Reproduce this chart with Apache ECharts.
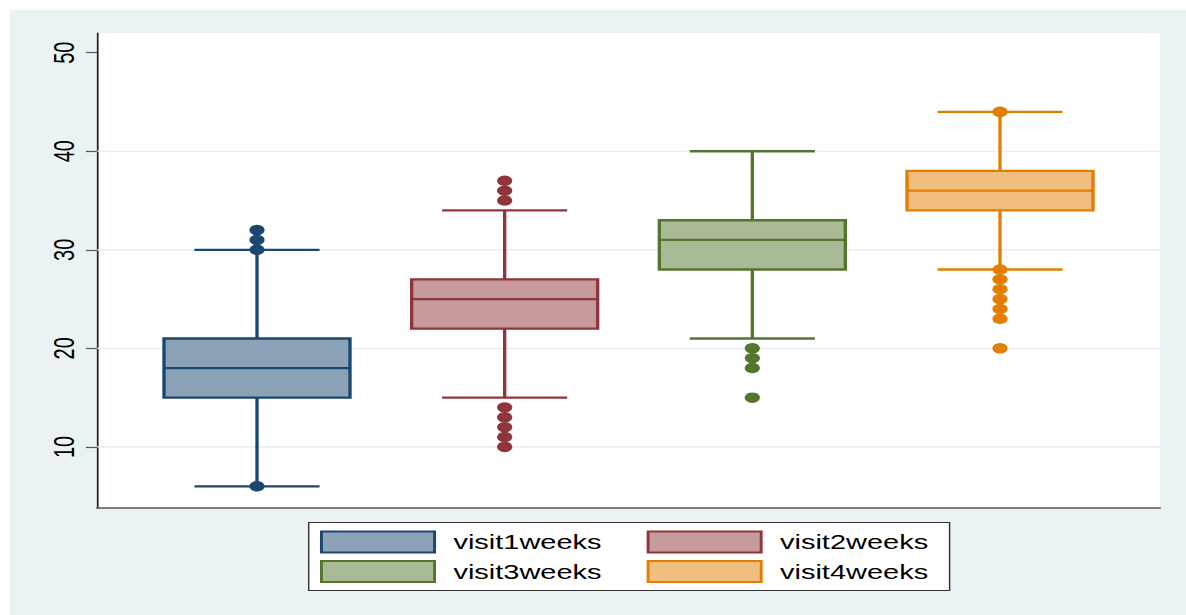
<!DOCTYPE html>
<html>
<head>
<meta charset="utf-8">
<script src="https://cdn.jsdelivr.net/npm/echarts@6/dist/echarts.min.js"></script>
<style>
  html, body { margin: 0; padding: 0; background: #ffffff; }
  #chart {
    position: absolute; left: 10px; top: 10px;
    width: 811px; height: 605px;
    transform: scaleX(1.45); transform-origin: 0 0;
  }
</style>
</head>
<body>
<div id="chart"></div>
<script>
// ---- data ----
const categories = ['visit1weeks', 'visit2weeks', 'visit3weeks', 'visit4weeks'];
const lowWhisker = [6, 15, 21, 28];
const q1 = [15, 22, 28, 34];
const median = [18, 25, 31, 36];
const q3 = [21, 27, 33, 38];
const highWhisker = [30, 34, 40, 44];
const outliers = [
  [6, 30, 31, 32],
  [10, 11, 12, 13, 14, 35, 36, 37],
  [15, 18, 19, 20],
  [20, 23, 24, 25, 26, 27, 28, 44]
];
const yTickValues = [10, 20, 30, 40, 50];
const gridValues = [10, 20, 30, 40];

// ---- styles ----
const strokeColors = ['#1a476f', '#90353b', '#55752f', '#e37e00'];
const fillColors = ['#8ca3b7', '#c79a9d', '#aaba97', '#f1be7f'];
const FONT = 'Liberation Sans, Arial, sans-serif';
const BOX_W = 0.751, CAP_W = 0.505, LW = 2.3;
const X_MIN = 0.354, X_MAX = 4.646;

const chart = echarts.init(document.getElementById('chart'), null, { renderer: 'svg' });

function boxRender(i) {
  return function (params, api) {
    const x = api.value(0);
    const pLow = api.coord([x, api.value(1)]);
    const pQ1 = api.coord([x, api.value(2)]);
    const pMed = api.coord([x, api.value(3)]);
    const pQ3 = api.coord([x, api.value(4)]);
    const pHigh = api.coord([x, api.value(5)]);
    const hb = api.size([BOX_W, 0])[0] / 2;
    const hc = api.size([CAP_W, 0])[0] / 2;
    const ls = { stroke: strokeColors[i], lineWidth: LW, fill: null };
    const cx = pMed[0];
    return {
      type: 'group',
      children: [
        { type: 'line', shape: { x1: cx, y1: pLow[1], x2: cx, y2: pQ1[1] }, style: ls },
        { type: 'line', shape: { x1: cx, y1: pQ3[1], x2: cx, y2: pHigh[1] }, style: ls },
        { type: 'line', shape: { x1: cx - hc, y1: pLow[1], x2: cx + hc, y2: pLow[1] }, style: ls },
        { type: 'line', shape: { x1: cx - hc, y1: pHigh[1], x2: cx + hc, y2: pHigh[1] }, style: ls },
        { type: 'rect', shape: { x: cx - hb, y: pQ3[1], width: hb * 2, height: pQ1[1] - pQ3[1] },
          style: { fill: fillColors[i], stroke: strokeColors[i], lineWidth: LW } },
        { type: 'line', shape: { x1: cx - hb, y1: pMed[1], x2: cx + hb, y2: pMed[1] }, style: ls }
      ]
    };
  };
}

const series = [];
series.push({
  type: 'custom', name: 'grid', silent: true, z: 1,
  data: gridValues.map(v => [1, v]),
  encode: { x: 0, y: 1 },
  renderItem: function (params, api) {
    const p = api.coord([1, api.value(1)]);
    const cs = params.coordSys;
    return { type: 'line', shape: { x1: cs.x, y1: p[1], x2: cs.x + cs.width, y2: p[1] },
      style: { stroke: '#e1eaee', lineWidth: 1.2 } };
  }
});
categories.forEach((name, i) => {
  series.push({
    type: 'custom', name: name, z: 3,
    itemStyle: { color: fillColors[i], borderColor: strokeColors[i] },
    data: [[i + 1, lowWhisker[i], q1[i], median[i], q3[i], highWhisker[i]]],
    encode: { x: 0, y: [1, 2, 3, 4, 5] },
    renderItem: boxRender(i)
  });
  series.push({
    type: 'scatter', name: name, z: 4,
    symbol: 'circle', symbolSize: 10.5,
    itemStyle: { color: strokeColors[i], opacity: 1 },
    data: outliers[i].map(v => [i + 1, v])
  });
});

function legendItem(i) {
  return { name: categories[i], icon: 'rect',
    itemStyle: { color: fillColors[i], borderColor: strokeColors[i], borderWidth: 2 } };
}
const legendCommon = {
  left: 213.8, itemWidth: 78, itemHeight: 21, itemGap: 31, padding: 0,
  selectedMode: false, z: 6,
  textStyle: { fontSize: 20, color: '#000', fontFamily: FONT, padding: [0, 0, 0, 8] }
};

chart.setOption({
  backgroundColor: '#eaf2f3',
  animation: false,
  textStyle: { fontFamily: FONT },
  grid: { left: 60, right: 17.9, top: 23, bottom: 107, show: true, backgroundColor: '#ffffff', borderWidth: 0 },
  xAxis: {
    type: 'value', min: X_MIN, max: X_MAX,
    axisLine: { show: true, onZero: false, lineStyle: { color: '#555', width: 1.6 } },
    axisTick: { show: false }, axisLabel: { show: false }, splitLine: { show: false }
  },
  yAxis: {
    type: 'value', min: 3.8, max: 52,
    axisLine: { show: true, lineStyle: { color: '#222', width: 1.2 } },
    axisTick: { show: true, length: 7.6, customValues: yTickValues, lineStyle: { color: '#555', width: 1.2 } },
    axisLabel: { show: true, rotate: 90, margin: 13, customValues: yTickValues,
      fontSize: 20, color: '#000', fontFamily: FONT },
    splitLine: { show: false }
  },
  graphic: [{
    type: 'rect', left: 205.5, top: 512, z: 2,
    shape: { width: 442, height: 68 },
    style: { fill: '#ffffff', stroke: '#333', lineWidth: 1 }
  }],
  legend: [
    Object.assign({}, legendCommon, { top: 520.5, data: [legendItem(0), legendItem(1)] }),
    Object.assign({}, legendCommon, { top: 550, data: [legendItem(2), legendItem(3)] })
  ],
  series: series
});
</script>
</body>
</html>
